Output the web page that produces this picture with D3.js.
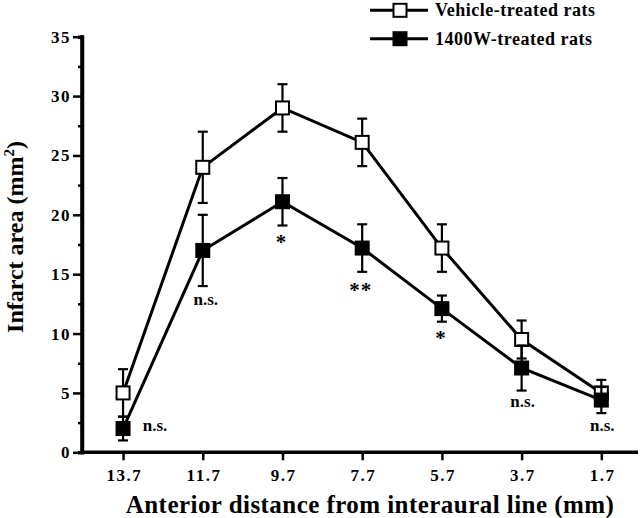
<!DOCTYPE html>
<html>
<head>
<meta charset="utf-8">
<script src="https://cdn.jsdelivr.net/npm/d3@7"></script>
<style>
  body { margin: 0; background: #fff; }
  svg { display: block; font-family: "Liberation Serif", "Times New Roman", serif; font-weight: bold; }
</style>
</head>
<body>
<svg id="chart" width="640" height="518"></svg>
<script>
// Datos
const distances = [13.7, 11.7, 9.7, 7.7, 5.7, 3.7, 1.7];
const vehicleMean = [5.0, 24.0, 29.0, 26.1, 17.2, 9.5, 5.0];
const vehicleErr = [2.0, 3.0, 2.0, 2.0, 2.0, 1.6, 1.1];
const w1400Mean = [2.0, 17.0, 21.1, 17.2, 12.1, 7.1, 4.4];
const w1400Err = [1.0, 3.0, 2.0, 2.0, 1.1, 1.9, 1.1];
const yTicks = [0, 5, 10, 15, 20, 25, 30, 35];
const seriesNames = ['Vehicle-treated rats', '1400W-treated rats'];
// marcas de significancia: [distancia, valor y, etiqueta]
const sigLabels = [
  [13.7, 1.83, 'n.s.'],
  [11.7, 12.42, 'n.s.'],
  [9.7, 18.0, '*'],
  [7.7, 13.95, '**'],
  [5.7, 9.9, '*'],
  [3.7, 3.82, 'n.s.'],
  [1.7, 1.83, 'n.s.']
];

const config = {
  margins: { left: 82, top: 37, right: 2, bottom: 66 },
  marker: 13,
  cap: 10,
  lineWidth: 3,
  errWidth: 2.2,
  axisWidth: 3.5
};

const svg = d3.select('#chart');
const width = 640, height = 518;
const m = config.margins;

const x = d3.scaleLinear().domain([14.73, 0.78]).range([m.left, width - m.right]);
const y = d3.scaleLinear().domain([0, 35]).range([452.3, 36.7]);

// Ejes
const yAxis = d3.axisLeft(y).tickValues(yTicks).tickSize(9).tickPadding(2).tickFormat(d3.format('d'));
const yMinor = d3.axisLeft(y).tickValues(d3.range(2.5, 35, 5)).tickSize(4).tickFormat('');
const xAxis = d3.axisBottom(x).tickValues(distances).tickSize(8).tickPadding(9).tickFormat(d3.format('.1f'));

const gy = svg.append('g').attr('transform', `translate(${m.left},0)`).call(yAxis);
svg.append('g').attr('transform', `translate(${m.left},0)`).call(yMinor);
const gx = svg.append('g').attr('transform', `translate(0,${y(0)})`).call(xAxis);

svg.selectAll('g').attr('font-family', null).attr('font-size', null);
svg.selectAll('.domain').attr('stroke', '#000').attr('stroke-width', config.axisWidth);
svg.selectAll('.tick line').attr('stroke', '#000').attr('stroke-width', 2.5);
gy.selectAll('.tick text').style('font-size', '17px').style('letter-spacing', '1.5px').attr('fill', '#000');
gx.selectAll('.tick text').style('font-size', '17px').style('letter-spacing', '1.5px').attr('fill', '#000')
  .attr('dx', '0.75px');
gy.select('.domain').attr('d', `M0,${y(0)}V${y(35) - 1.5}`);
gx.select('.domain').attr('d', `M${m.left},0H${width - m.right}`);

// Títulos de ejes
svg.append('text')
  .attr('transform', `translate(23,237) rotate(-90)`)
  .attr('text-anchor', 'middle')
  .style('font-size', '24px')
  .html('Infarct area (mm<tspan dy="-9" style="font-size:15px">2</tspan><tspan dy="9">)</tspan>');

svg.append('text')
  .attr('x', 370)
  .attr('y', 513)
  .attr('text-anchor', 'middle')
  .style('font-size', '25px')
  .style('letter-spacing', '0.45px')
  .text('Anterior distance from interaural line (mm)');

// Series
const series = [
  { name: seriesNames[0], mean: vehicleMean, err: vehicleErr, fill: '#fff' },
  { name: seriesNames[1], mean: w1400Mean, err: w1400Err, fill: '#000' }
];

const line = d3.line().x(d => x(d[0])).y(d => y(d[1]));

series.forEach(s => {
  const pts = distances.map((d, i) => [d, s.mean[i], s.err[i]]);
  const g = svg.append('g');

  const eb = g.selectAll('g.err').data(pts).join('g').attr('class', 'err');
  eb.append('line')
    .attr('x1', d => x(d[0])).attr('x2', d => x(d[0]))
    .attr('y1', d => y(d[1] - d[2])).attr('y2', d => y(d[1] + d[2]));
  eb.append('line')
    .attr('x1', d => x(d[0]) - config.cap / 2).attr('x2', d => x(d[0]) + config.cap / 2)
    .attr('y1', d => y(d[1] + d[2])).attr('y2', d => y(d[1] + d[2]));
  eb.append('line')
    .attr('x1', d => x(d[0]) - config.cap / 2).attr('x2', d => x(d[0]) + config.cap / 2)
    .attr('y1', d => y(d[1] - d[2])).attr('y2', d => y(d[1] - d[2]));
  eb.selectAll('line').attr('stroke', '#000').attr('stroke-width', config.errWidth);

  g.append('path')
    .datum(pts)
    .attr('d', line)
    .attr('fill', 'none')
    .attr('stroke', '#000')
    .attr('stroke-width', config.lineWidth);

  g.selectAll('rect').data(pts).join('rect')
    .attr('x', d => x(d[0]) - config.marker / 2)
    .attr('y', d => y(d[1]) - config.marker / 2)
    .attr('width', config.marker)
    .attr('height', config.marker)
    .attr('fill', s.fill)
    .attr('stroke', '#000')
    .attr('stroke-width', 2);
});

// Marcas de significancia
svg.selectAll('text.sig').data(sigLabels).join('text')
  .attr('class', 'sig')
  .attr('x', d => {
    if (d[0] === 13.7) return x(d[0]) + 32;
    if (d[2].startsWith('*')) return x(d[0]) - 1.5;
    return x(d[0]) + (d[0] === 11.7 ? 3 : 1);
  })
  .attr('y', d => y(d[1]) + (d[2].startsWith('*') ? 10 : 0))
  .attr('text-anchor', 'middle')
  .style('font-size', d => d[2].startsWith('*') ? '21px' : '17px')
  .style('letter-spacing', d => d[2] === '**' ? '1px' : null)
  .text(d => d[2]);

// Leyenda
const legend = svg.append('g').attr('transform', 'translate(370,0)');
const legendItems = legend.selectAll('g').data(series).join('g')
  .attr('transform', (d, i) => `translate(0,${10.3 + i * 28.4})`);
legendItems.append('line')
  .attr('x1', 0).attr('x2', 58).attr('y1', 0).attr('y2', 0)
  .attr('stroke', '#000').attr('stroke-width', config.lineWidth);
legendItems.append('rect')
  .attr('x', 30 - config.marker / 2).attr('y', -config.marker / 2)
  .attr('width', config.marker).attr('height', config.marker)
  .attr('fill', d => d.fill).attr('stroke', '#000').attr('stroke-width', 2);
legendItems.append('text')
  .attr('x', 65).attr('y', 6)
  .style('font-size', '18px')
  .style('letter-spacing', '0.5px')
  .text(d => d.name);
</script>
</body>
</html>
